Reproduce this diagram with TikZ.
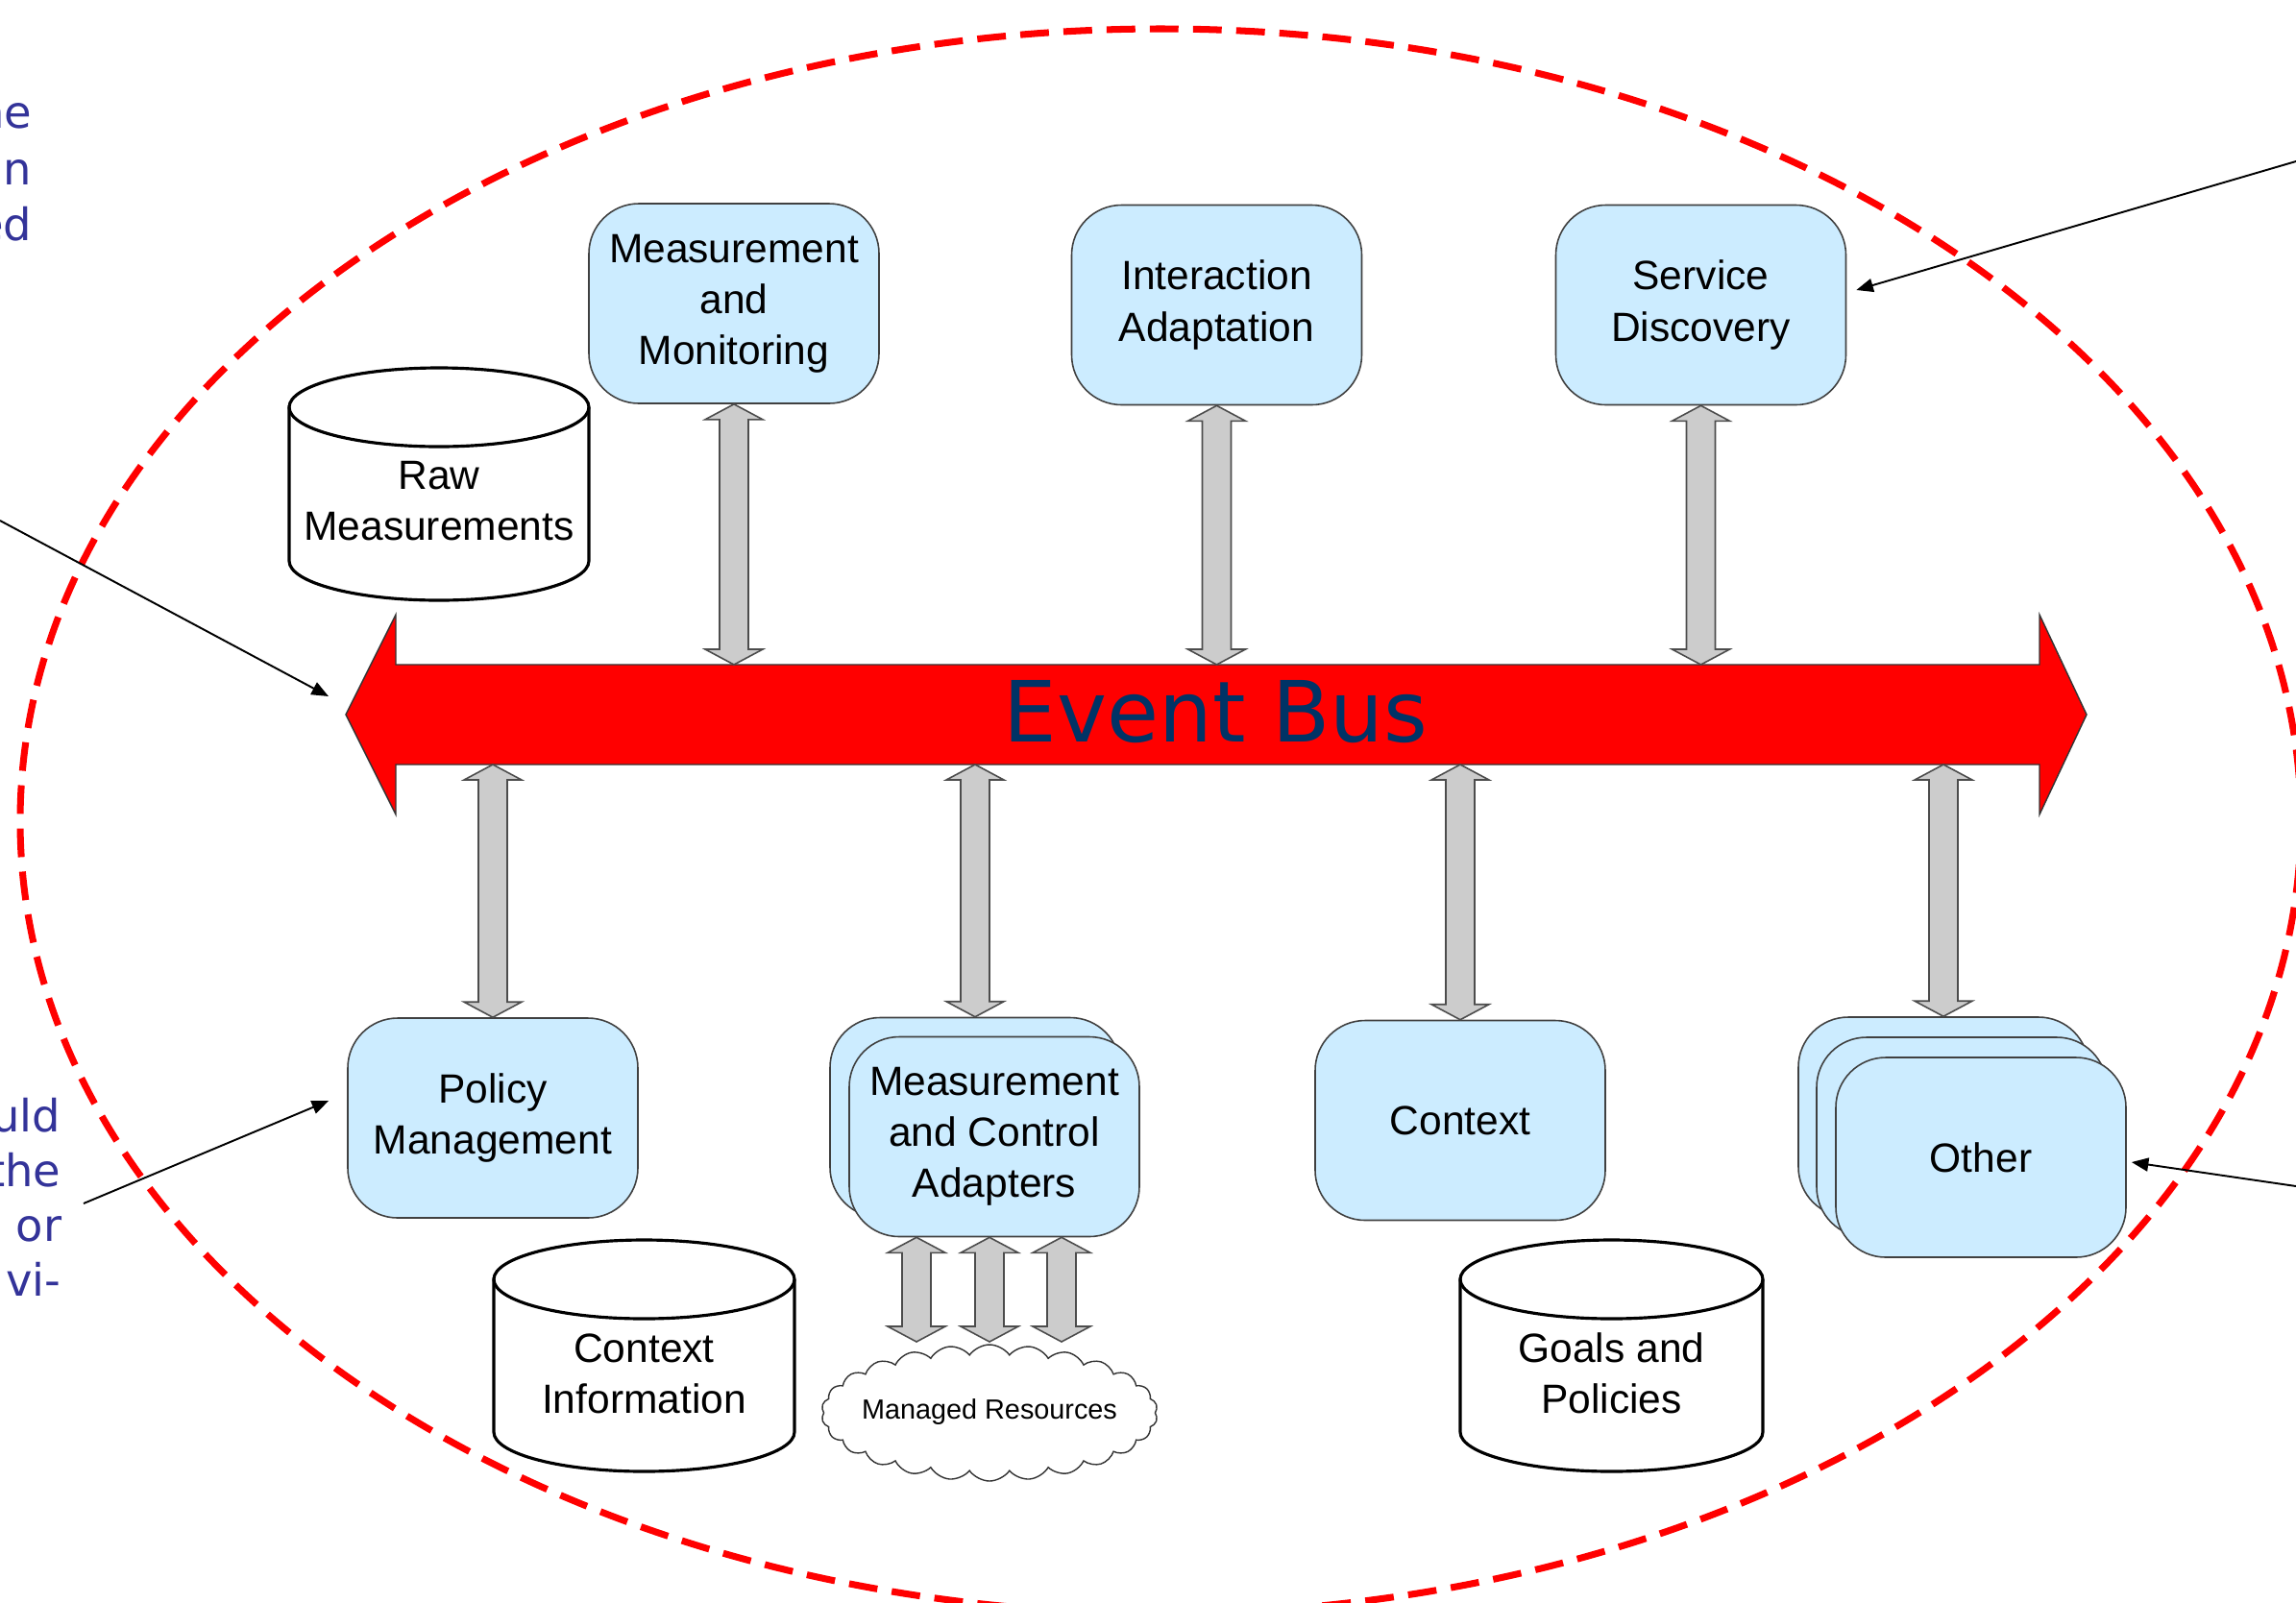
\documentclass[tikz,border=0pt]{standalone}
\usepackage{fontspec}
\setmainfont{Liberation Sans}
\newfontfamily\dejavu{DejaVu Sans}
\usetikzlibrary{shapes.symbols,arrows.meta,calc}
\definecolor{boxblue}{RGB}{204,236,255}
\definecolor{busred}{RGB}{255,0,0}
\definecolor{busnavy}{RGB}{0,51,102}
\definecolor{notecol}{RGB}{51,51,153}
\definecolor{arrgray}{RGB}{204,204,204}
\tikzset{
 box/.style={draw=black!75, line width=0.45pt, fill=boxblue, rounded corners=0.52cm, minimum width=3.02cm, minimum height=2.08cm, align=center, inner sep=2pt, font=\fontsize{12.1}{15.1}\selectfont},
 cylbody/.style={draw=black, line width=0.9pt, fill=white},
 cyltext/.style={align=center, inner sep=0pt, font=\fontsize{12.1}{15.1}\selectfont},
 gray arrow/.style={draw=black!70, line width=0.45pt, fill=arrgray, line join=miter},
 pointer/.style={draw=black, line width=0.55pt, -{Triangle[length=5pt,width=4pt]}},
 note/.style={text=notecol, font=\dejavu\fontsize{13.2}{16.5}\selectfont, anchor=base east, inner sep=0pt},
 boundary/.style={draw=busred, line width=2pt, dash pattern=on 8.5pt off 4.3pt},
 busshape/.style={draw=black!80, line width=0.4pt, fill=busred},
}
\newcommand\garrow[2]{%
 \path #1 coordinate (gt) #2 coordinate (gb);
 \filldraw[gray arrow] (gt) -- ($(gt)+(0.30,-0.16)$) -- ($(gt)+(0.15,-0.16)$) -- ($(gb)+(0.15,0.16)$) -- ($(gb)+(0.30,0.16)$) -- (gb) -- ($(gb)+(-0.30,0.16)$) -- ($(gb)+(-0.15,0.16)$) -- ($(gt)+(-0.15,-0.16)$) -- ($(gt)+(-0.30,-0.16)$) -- cycle;}
\newcommand\cyl[7]{%
 \filldraw[cylbody] (#2,#4-0.41) -- (#2,#5+0.41) arc[start angle=180,end angle=360,x radius=#6,y radius=0.41] -- (#3,#4-0.41) arc[start angle=0,end angle=180,x radius=#6,y radius=0.41] -- cycle;
 \draw[cylbody,fill=none] (#2,#4-0.41) arc[start angle=180,end angle=360,x radius=#6,y radius=0.41];
 \node[cyltext] (#1) at ({(#2+#3)/2},#4-1.39) {#7};}
\begin{document}
\begin{tikzpicture}
\useasboundingbox (0,0) rectangle (23.90,-16.68);
% boundary ellipse
\draw[boundary] (12.08,-8.55) ellipse [x radius=11.87, y radius=8.25];

% left margin text fragments
\node[note] (t1) at (0.34,-1.33) {he};
\node[note] (t2) at (0.34,-1.92) {in};
\node[note] (t3) at (0.34,-2.50) {ed};
\node[note] (b1) at (0.64,-11.78) {uld};
\node[note] (b2) at (0.64,-12.35) {the};
\node[note] (b3) at (0.65,-12.92) {or};
\node[note] (b4) at (0.64,-13.49) {vi-};

% event bus
\filldraw[busshape] (3.60,-7.44) -- (4.12,-6.40) -- (4.12,-6.92) -- (21.23,-6.92) -- (21.23,-6.40) -- (21.72,-7.44) -- (21.23,-8.48) -- (21.23,-7.96) -- (4.12,-7.96) -- (4.12,-8.48) -- cycle;
\coordinate (busl) at (3.60,-7.44);
\coordinate (bustop) at (12.66,-6.92);
\coordinate (busbot) at (12.66,-7.96);
\node[font=\dejavu\fontsize{25}{30}\selectfont, text=busnavy, anchor=base, inner sep=0pt] (bus) at (12.655,-7.72) {Event Bus};

% cylinders
\cyl{raw}{3.01}{6.13}{-3.83}{-6.25}{1.56}{Raw\\Measurements}
\cyl{ctxinfo}{5.14}{8.27}{-12.91}{-15.32}{1.565}{Context\\Information}
\cyl{goals}{15.20}{18.35}{-12.91}{-15.32}{1.575}{Goals and\\Policies}

% boxes
\node[box] (mm) at (7.64,-3.16) {Measurement\\and\\Monitoring};
\node[box] (ia) at (12.665,-3.175) {Interaction\\Adaptation};
\node[box] (sd) at (17.705,-3.175) {Service\\Discovery};
\node[box] (pm) at (5.13,-11.64) {Policy\\Management};
\node[box] (mcab) at (10.15,-11.635) {};
\node[box] (mca) at (10.35,-11.835) {Measurement\\and Control\\Adapters};
\node[box] (ctx) at (15.20,-11.665) {Context};
\node[box] (othc) at (20.23,-11.63) {};
\node[box] (othb) at (20.42,-11.84) {};
\node[box] (oth) at (20.62,-12.05) {Other};

% cloud
\node[cloud, draw=black!80, line width=0.4pt, fill=white, cloud puffs=26, cloud puff arc=110, aspect=2.5, minimum width=3.5cm, minimum height=1.42cm, inner sep=0pt] (cloud) at (10.30,-14.71) {};
\node[font=\fontsize{8.2}{10}\selectfont, inner sep=0pt] (cloudtext) at (10.30,-14.70) {Managed Resources};
\coordinate (cltop) at (10.31,-13.97);

% gray double arrows
\garrow{(mm.south)}{(mm.south |- bustop)}
\garrow{(ia.south)}{(ia.south |- bustop)}
\garrow{(sd.south)}{(sd.south |- bustop)}
\garrow{(pm.north |- busbot)}{(pm.north)}
\garrow{(mcab.north |- busbot)}{(mcab.north)}
\garrow{(ctx.north |- busbot)}{(ctx.north)}
\garrow{(othc.north |- busbot)}{(othc.north)}
\coordinate (sa1) at ($(mca.south)+(-0.81,0)$);
\coordinate (sa2) at ($(mca.south)+(-0.05,0)$);
\coordinate (sa3) at ($(mca.south)+(0.70,0)$);
\garrow{(sa1)}{(sa1 |- cltop)}
\garrow{(sa2)}{(sa2 |- cltop)}
\garrow{(sa3)}{(sa3 |- cltop)}

% pointer arrows
\coordinate (n1) at (23.90,-1.68);
\coordinate (n2) at (0,-5.42);
\coordinate (n3) at (0.87,-12.53);
\coordinate (n4) at (23.90,-12.35);
\draw[pointer] (n1) -- ($(sd.east)+(0.10,0.155)$);
\draw[pointer] (n2) -- ($(busl)+(-0.18,0.19)$);
\draw[pointer] (n3) -- ($(pm.west)+(-0.19,0.18)$);
\draw[pointer] (n4) -- ($(oth.east)+(0.05,-0.05)$);
\end{tikzpicture}
\end{document}
